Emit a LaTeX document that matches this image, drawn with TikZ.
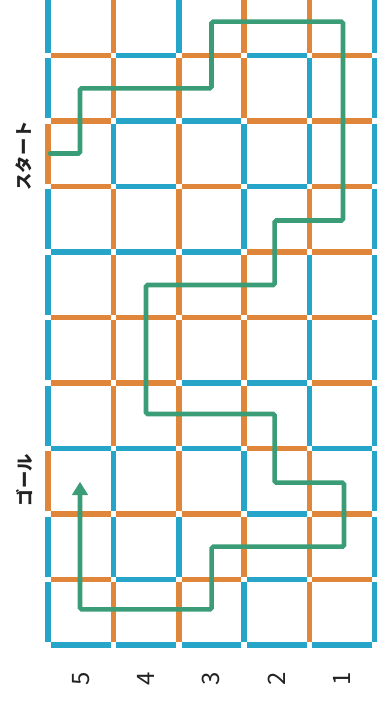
\documentclass[tikz,border=0pt]{standalone}
\usepackage{fontspec}
\newfontfamily\jp{Noto Sans CJK JP}
\usetikzlibrary{arrows.meta}
\definecolor{gb}{HTML}{27A5C8}
\definecolor{go}{HTML}{DF863A}
\definecolor{gg}{HTML}{3A9D77}
\definecolor{tx}{HTML}{222222}
\begin{document}
\begin{tikzpicture}[x=0.75pt,y=-0.75pt,
  seg/.style={line width=4.1pt},
  route/.style={draw=gg, line width=3.4pt, rounded corners=1.2pt},
  lbl/.style={font=\jp\bfseries\fontsize{13pt}{13pt}\selectfont, text=tx, rotate=90, inner sep=0pt},
  num/.style={font=\jp\fontsize{18pt}{18pt}\selectfont, text=tx, rotate=90, inner sep=0pt}]
\useasboundingbox (0,0) rectangle (377,712);
\clip (0,0) rectangle (377,712);
% vertical segments, row by row (V0..V5)
\foreach \row [count=\r from 0] in {
  {gb,go,gb,go,go,gb},
  {gb,go,go,go,gb,gb},
  {go,gb,go,gb,gb,gb},
  {gb,go,go,gb,go,gb},
  {gb,go,go,go,gb,gb},
  {gb,go,go,go,gb,gb},
  {gb,go,go,go,gb,gb},
  {go,gb,go,gb,go,gb},
  {gb,gb,gb,go,go,gb},
  {gb,go,go,gb,go,gb}}{
  \foreach \c [count=\i from 0] in \row {
    \draw[seg,\c] ({48+65.4*\i},{-7.25+65.5*\r}) -- ({48+65.4*\i},{52.75+65.5*\r});
  }
}
% horizontal segments, line by line (c0..c4)
\foreach \row [count=\r from 0] in {
  {go,gb,go,gb,go},
  {go,gb,gb,go,go},
  {go,gb,go,gb,go},
  {gb,gb,gb,go,go},
  {go,go,go,go,go},
  {go,go,gb,gb,go},
  {gb,gb,gb,go,gb},
  {go,go,go,gb,go},
  {go,gb,go,gb,go},
  {gb,gb,gb,gb,gb}}{
  \foreach \c [count=\i from 0] in \row {
    \draw[seg,\c] ({50.75+65.4*\i},{55.5+65.5*\r}) -- ({110.65+65.4*\i},{55.5+65.5*\r});
  }
}
% route
\coordinate (start) at (50,153.5);
\coordinate (goal) at (80,481.7);
\draw[route, line cap=round, -{Triangle[width=11.5pt,length=10pt]}]
  (start) -- (80,153.5) -- (80,88.3) -- (211.5,88.3) -- (211.5,21.7)
  -- (343,21.7) -- (343,220.5) -- (274.7,220.5) -- (274.7,285)
  -- (146,285) -- (146,414) -- (274.7,414) -- (274.7,482.7)
  -- (344,482.7) -- (344,546.7) -- (211.7,546.7) -- (211.7,609.3)
  -- (80,609.3) -- (goal);
% labels
\node[lbl] (lstart) at (23.5,156) {スタート};
\node[lbl] (lgoal) at (24,480) {ゴール};
\node[num] (n5) at (81,679) {5};
\node[num] (n4) at (146,679) {4};
\node[num] (n3) at (211,679) {3};
\node[num] (n2) at (276.5,679) {2};
\node[num] (n1) at (342,679) {1};
\end{tikzpicture}
\end{document}
